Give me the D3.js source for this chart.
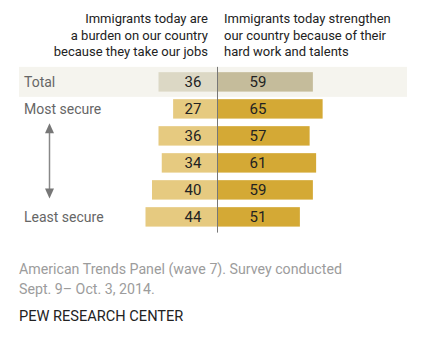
<!DOCTYPE html>
<html>
<head>
<meta charset="utf-8">
<script src="https://cdn.jsdelivr.net/npm/d3@7"></script>
<style>
  html, body { margin: 0; padding: 0; background: #fff; }
  svg { display: block; font-family: Roboto, "Liberation Sans", Arial, sans-serif; }
</style>
</head>
<body>
<div id="chart"></div>
<script>
// ---- data ----
const groups = ["Total", "Most secure", "", "", "", "Least secure"];
const burden = [36, 27, 36, 34, 40, 44];
const strengthen = [59, 65, 57, 61, 59, 51];
const headerLeft = ["Immigrants today are", "a burden on our country", "because they take our jobs"];
const headerRight = ["Immigrants today strengthen", "our country because of their", "hard work and talents"];
const footerLines = ["American Trends Panel (wave 7). Survey conducted", "Sept. 9\u2013 Oct. 3, 2014."];
const sourceLabel = "PEW RESEARCH CENTER";

// ---- layout ----
const W = 431, H = 337;
const cx = 217;
const svg = d3.select("#chart").append("svg").attr("width", W).attr("height", H);

const x = d3.scaleLinear().domain([0, 100]).range([0, 162.5]);
const idx = d3.range(groups.length);
const y = d3.scaleBand().domain(idx).range([64.6, 64.6 + 27 * 6.28]).paddingInner(0.28).paddingOuter(0.28);
const bw = y.bandwidth();

const colors = {
  totalL: "#dcd8c5", totalR: "#c5bc9b",
  goldL: "#e6ca80", goldR: "#d4a935",
  band: "#f5f4ee"
};

// header
const hdr = svg.append("g").attr("font-size", 13).attr("fill", "#222");
headerLeft.forEach((t, i) => hdr.append("text").attr("x", 208).attr("y", 23 + i * 16.6).attr("text-anchor", "end").text(t));
headerRight.forEach((t, i) => hdr.append("text").attr("x", 224).attr("y", 23 + i * 16.6).text(t));

// total background band
svg.append("rect")
  .attr("x", 19).attr("width", 388)
  .attr("y", y(0) + bw / 2 - 15).attr("height", 30)
  .attr("fill", colors.band);

// bars
const rows = svg.append("g").selectAll("g").data(idx).join("g");
rows.append("rect")
  .attr("x", i => cx - x(burden[i])).attr("y", i => y(i))
  .attr("width", i => x(burden[i])).attr("height", bw)
  .attr("fill", i => i === 0 ? colors.totalL : colors.goldL);
rows.append("rect")
  .attr("x", cx).attr("y", i => y(i))
  .attr("width", i => x(strengthen[i])).attr("height", bw)
  .attr("fill", i => i === 0 ? colors.totalR : colors.goldR);

// value labels
rows.append("text")
  .attr("x", cx - 24).attr("y", i => y(i) + bw / 2 + 5.5)
  .attr("text-anchor", "middle").attr("font-size", 15).attr("fill", "#222")
  .text(i => burden[i]);
rows.append("text")
  .attr("x", cx + 41).attr("y", i => y(i) + bw / 2 + 5.5)
  .attr("text-anchor", "middle").attr("font-size", 15).attr("fill", "#222")
  .text(i => strengthen[i]);

// group labels
rows.append("text")
  .attr("x", 24).attr("y", i => y(i) + bw / 2 + 5)
  .attr("font-size", 14).attr("fill", "#666")
  .text(i => groups[i]);

// center line
svg.append("line")
  .attr("x1", cx + 0.5).attr("x2", cx + 0.5)
  .attr("y1", y(0) + bw / 2 - 15).attr("y2", y(5) + bw + 6)
  .attr("stroke", "#777").attr("stroke-width", 1);

// arrow
const ax = 49.5, ay1 = y(2) - 3, ay2 = y(4) + bw - 1;
svg.append("line").attr("x1", ax).attr("x2", ax).attr("y1", ay1 + 6).attr("y2", ay2 - 6)
  .attr("stroke", "#888").attr("stroke-width", 1.5);
svg.append("path").attr("d", `M${ax},${ay1} L${ax - 4.5},${ay1 + 10} L${ax + 4.5},${ay1 + 10} Z`).attr("fill", "#777");
svg.append("path").attr("d", `M${ax},${ay2} L${ax - 4.5},${ay2 - 10} L${ax + 4.5},${ay2 - 10} Z`).attr("fill", "#777");

// footer
const ft = svg.append("g").attr("font-size", 14.2).attr("fill", "#9c9c9c");
footerLines.forEach((t, i) => ft.append("text").attr("x", 19).attr("y", 274 + i * 19.5).text(t));
svg.append("text").attr("x", 19).attr("y", 321).attr("font-size", 14.6).attr("fill", "#222").text(sourceLabel);
</script>
</body>
</html>
